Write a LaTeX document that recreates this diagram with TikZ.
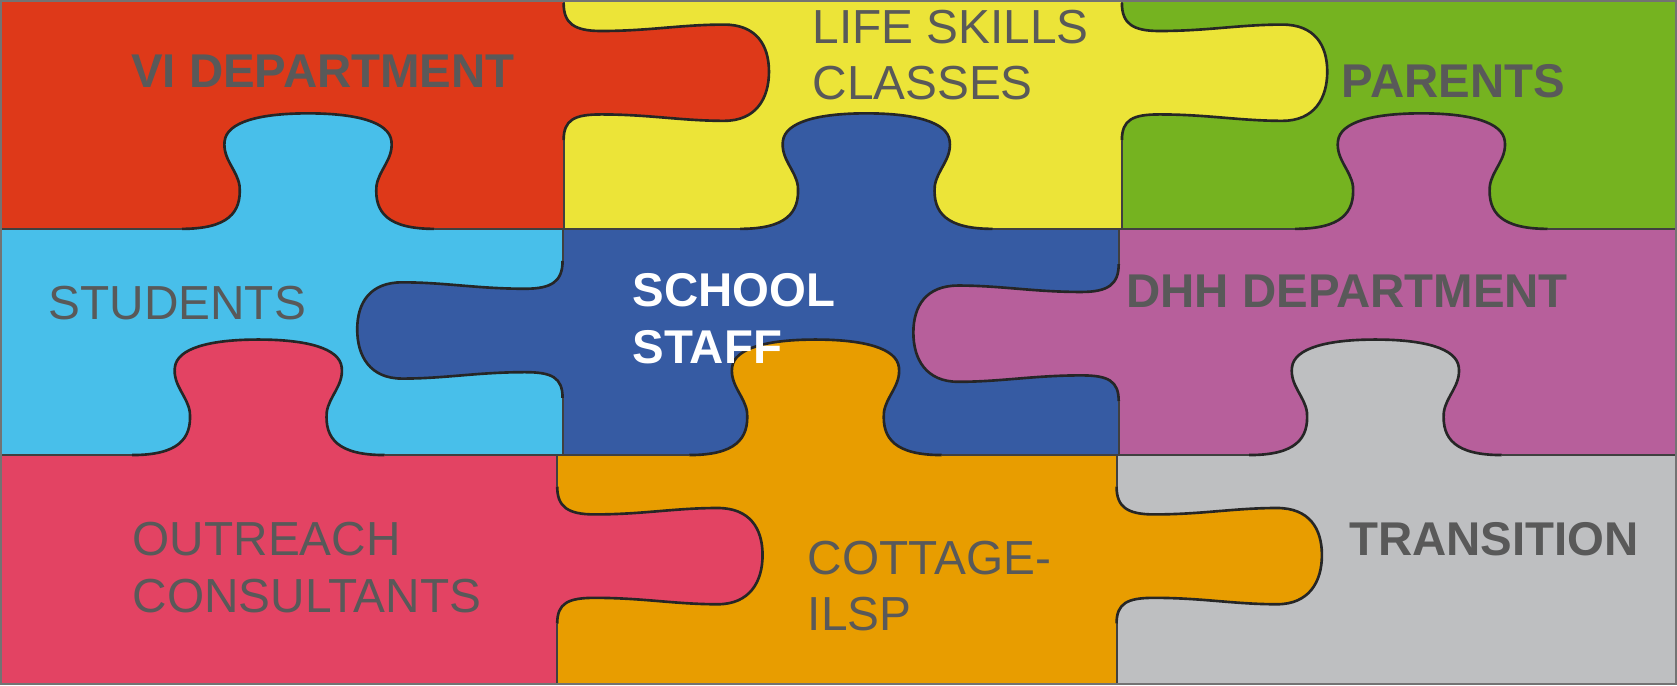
\documentclass[tikz,border=0pt]{standalone}
\usepackage{fontspec}
\setmainfont{Liberation Sans}
\usepackage{tikz}

\definecolor{viRed}{RGB}{222,57,25}
\definecolor{lifeYellow}{RGB}{236,228,56}
\definecolor{parentsGreen}{RGB}{117,179,32}
\definecolor{studentsBlue}{RGB}{72,191,234}
\definecolor{staffBlue}{RGB}{54,91,163}
\definecolor{dhhPurple}{RGB}{183,95,155}
\definecolor{outreachPink}{RGB}{227,67,99}
\definecolor{cottageOrange}{RGB}{232,157,0}
\definecolor{transitionGrey}{RGB}{190,191,193}
\definecolor{labelGrey}{RGB}{89,89,89}

% knob pointing up: centre x, base y
\newcommand{\uptabpath}[2]{({#1-118},#2) .. controls ({#1-75},#2) and ({#1-62},{#2-15}) .. ({#1-64},{#2-40})
  .. controls ({#1-66},{#2-55}) and ({#1-80},{#2-65}) .. ({#1-78},{#2-82})
  .. controls ({#1-76},{#2-100}) and ({#1-45},{#2-108}) .. (#1,{#2-108})
  .. controls ({#1+45},{#2-108}) and ({#1+76},{#2-100}) .. ({#1+78},{#2-82})
  .. controls ({#1+80},{#2-65}) and ({#1+66},{#2-55}) .. ({#1+64},{#2-40})
  .. controls ({#1+62},{#2-15}) and ({#1+75},#2) .. ({#1+118},#2)}
\newcommand{\uptab}[3]{\fill[#1] \uptabpath{#2}{#3} -- ({#2+118},{#3+2}) -- ({#2-118},{#3+2}) -- cycle;
  \draw[tabline] \uptabpath{#2}{#3};}

% knob pointing sideways: base x, centre y, direction (1 or -1)
\newcommand{\sidetabpath}[3]{(#1,{#2-64}) .. controls (#1,{#2-45}) and ({#1+10*#3},{#2-38}) .. ({#1+35*#3},{#2-38})
  .. controls ({#1+80*#3},{#2-38}) and ({#1+110*#3},{#2-44}) .. ({#1+150*#3},{#2-44})
  .. controls ({#1+180*#3},{#2-44}) and ({#1+192*#3},{#2-25}) .. ({#1+192*#3},#2)
  .. controls ({#1+192*#3},{#2+25}) and ({#1+180*#3},{#2+46}) .. ({#1+150*#3},{#2+46})
  .. controls ({#1+110*#3},{#2+46}) and ({#1+80*#3},{#2+40}) .. ({#1+35*#3},{#2+40})
  .. controls ({#1+10*#3},{#2+40}) and (#1,{#2+45}) .. (#1,{#2+64})}
\newcommand{\sidetab}[4]{\fill[#1] \sidetabpath{#2}{#3}{#4} -- ({#2-2*#4},{#3+64}) -- ({#2-2*#4},{#3-64}) -- cycle;
  \draw[tabline] \sidetabpath{#2}{#3}{#4};}

\begin{document}
\begin{tikzpicture}[
        x=0.01cm, y=-0.01cm,
        every node/.style={inner sep=0pt, anchor=base west, align=left, text=labelGrey, font=\fontsize{12.7}{15.1}\selectfont},
        boldlabel/.style={font=\fontsize{12.6}{15.1}\selectfont\bfseries},
        gridline/.style={draw=black!75, line width=0.5pt},
        tabline/.style={draw=black!85, line width=0.7pt}
    ]
  \useasboundingbox (0,0) rectangle (1568,640.5);

  % Pieces
  \fill[viRed] (0,0) rectangle (527,214);
  \fill[lifeYellow] (527,0) rectangle (1049,214);
  \fill[parentsGreen] (1049,0) rectangle (1568,214);
  \fill[studentsBlue] (0,214) rectangle (526,425.5);
  \fill[staffBlue] (526,214) rectangle (1046,425.5);
  \fill[dhhPurple] (1046,214) rectangle (1568,425.5);
  \fill[outreachPink] (0,425.5) rectangle (521,640.5);
  \fill[cottageOrange] (521,425.5) rectangle (1044,640.5);
  \fill[transitionGrey] (1044,425.5) rectangle (1568,640.5);

  % Joints
  \draw[gridline] (0,214) -- (1568,214) (0,425.5) -- (1568,425.5);
  \draw[gridline] (527,0) -- (527,214) (1049,0) -- (1049,214);
  \draw[gridline] (526,214) -- (526,425.5) (1046,214) -- (1046,425.5);
  \draw[gridline] (521,425.5) -- (521,640.5) (1044,425.5) -- (1044,640.5);

  % Tabs
  \sidetab{viRed}{527}{67}{1}
  \sidetab{lifeYellow}{1049}{67}{1}
  \sidetab{staffBlue}{526}{308}{-1}
  \sidetab{dhhPurple}{1046}{311}{-1}
  \sidetab{outreachPink}{521}{519}{1}
  \sidetab{cottageOrange}{1044}{519}{1}
  \uptab{studentsBlue}{288}{214}
  \uptab{staffBlue}{810}{214}
  \uptab{dhhPurple}{1329}{214}
  \uptab{outreachPink}{241.5}{425.5}
  \uptab{cottageOrange}{762.5}{425.5}
  \uptab{transitionGrey}{1286}{425.5}

  \draw[gridline, draw=black!55] (0.8,0.8) rectangle (1567.2,639.7);

  % Labels (two-line labels sit on their last baseline)
  \node[boldlabel] (vi) at (122,82) {VI DEPARTMENT};
  \node (life) at (759,93.5) {LIFE SKILLS\\CLASSES};
  \node[boldlabel] (parents) at (1254,91) {PARENTS};
  \node (students) at (44.7,298.6) {STUDENTS};
  \node[boldlabel, text=white] (staff) at (591,340) {SCHOOL\\STAFF};
  \node[boldlabel] (dhh) at (1052.6,287.4) {DHH DEPARTMENT};
  \node (outreach) at (123.4,572.5) {OUTREACH\\CONSULTANTS};
  \node (cottage) at (754.7,590) {COTTAGE-\\ILSP};
  \node[boldlabel] (transition) at (1260.8,519) {TRANSITION};
\end{tikzpicture}
\end{document}
